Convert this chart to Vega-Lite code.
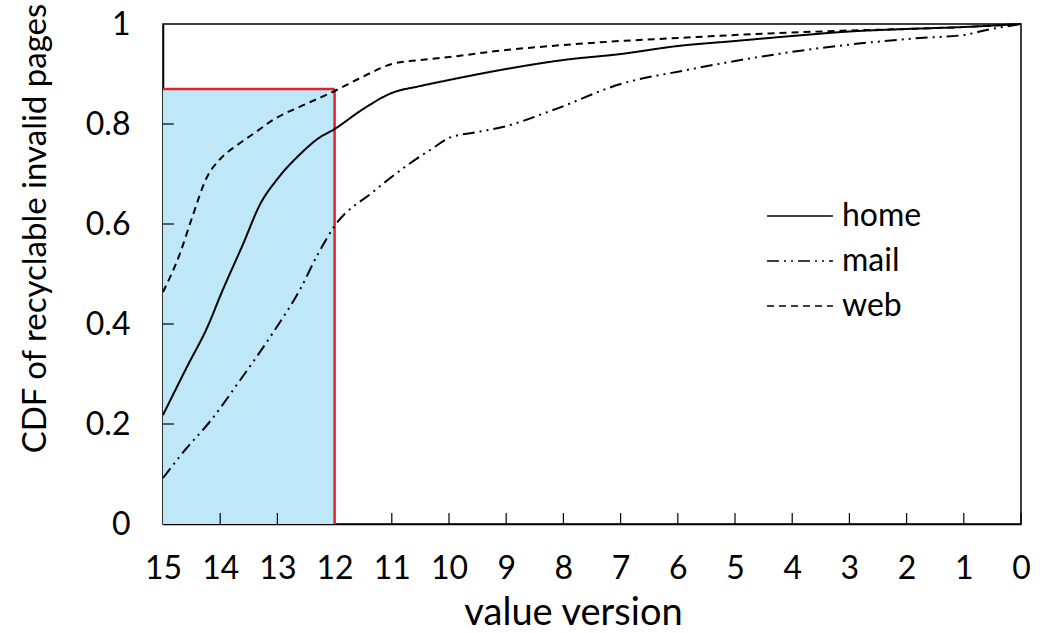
{
  "$schema": "https://vega.github.io/schema/vega-lite/v6.json",
  "autosize": "none",
  "width": 858,
  "height": 500,
  "padding": {"left": 163, "top": 24, "right": 19, "bottom": 109},
  "background": "white",
  "config": {
    "font": "Lato",
    "view": {"stroke": "black", "strokeWidth": 1.5},
    "axis": {"grid": false, "domainColor": "black", "domainWidth": 1.5, "ticks": false, "zindex": 1,
             "labelColor": "black", "titleColor": "black", "labelFont": "Lato", "titleFont": "Lato",
             "labelFontSize": 32, "titleFontWeight": "normal", "labelFlush": false, "labelOverlap": false}
  },
  "datasets": {
    "curves": [
      {"series": "home", "v": 15, "y": 0.218}, {"series": "home", "v": 14.6, "y": 0.31}, {"series": "home", "v": 14.2, "y": 0.40},
      {"series": "home", "v": 14, "y": 0.456}, {"series": "home", "v": 13.6, "y": 0.56}, {"series": "home", "v": 13.3, "y": 0.64},
      {"series": "home", "v": 13, "y": 0.69}, {"series": "home", "v": 12.6, "y": 0.74}, {"series": "home", "v": 12.3, "y": 0.77},
      {"series": "home", "v": 12, "y": 0.79}, {"series": "home", "v": 11.5, "y": 0.83}, {"series": "home", "v": 11, "y": 0.862},
      {"series": "home", "v": 10.5, "y": 0.876}, {"series": "home", "v": 10, "y": 0.888}, {"series": "home", "v": 9, "y": 0.91},
      {"series": "home", "v": 8, "y": 0.928}, {"series": "home", "v": 7, "y": 0.94}, {"series": "home", "v": 6, "y": 0.956},
      {"series": "home", "v": 5, "y": 0.966}, {"series": "home", "v": 4, "y": 0.976}, {"series": "home", "v": 3, "y": 0.985},
      {"series": "home", "v": 2, "y": 0.99}, {"series": "home", "v": 1, "y": 0.994}, {"series": "home", "v": 0, "y": 1},
      {"series": "mail", "v": 15, "y": 0.092}, {"series": "mail", "v": 14.6, "y": 0.15}, {"series": "mail", "v": 14.2, "y": 0.202},
      {"series": "mail", "v": 13.65, "y": 0.288}, {"series": "mail", "v": 13.08, "y": 0.382}, {"series": "mail", "v": 12.6, "y": 0.47},
      {"series": "mail", "v": 12.3, "y": 0.538}, {"series": "mail", "v": 12, "y": 0.596}, {"series": "mail", "v": 11.33, "y": 0.664},
      {"series": "mail", "v": 10.7, "y": 0.72}, {"series": "mail", "v": 10.28, "y": 0.752}, {"series": "mail", "v": 10, "y": 0.772},
      {"series": "mail", "v": 9.5, "y": 0.784}, {"series": "mail", "v": 9.06, "y": 0.794}, {"series": "mail", "v": 8.18, "y": 0.828},
      {"series": "mail", "v": 7, "y": 0.88}, {"series": "mail", "v": 5.84, "y": 0.908}, {"series": "mail", "v": 4.9, "y": 0.928},
      {"series": "mail", "v": 3.5, "y": 0.952}, {"series": "mail", "v": 1.77, "y": 0.972}, {"series": "mail", "v": 1, "y": 0.978},
      {"series": "mail", "v": 0.6, "y": 0.988}, {"series": "mail", "v": 0, "y": 1},
      {"series": "web", "v": 15, "y": 0.464}, {"series": "web", "v": 14.7, "y": 0.542}, {"series": "web", "v": 14.5, "y": 0.61},
      {"series": "web", "v": 14.23, "y": 0.694}, {"series": "web", "v": 14, "y": 0.73}, {"series": "web", "v": 13.7, "y": 0.758},
      {"series": "web", "v": 13.4, "y": 0.782}, {"series": "web", "v": 13.08, "y": 0.808}, {"series": "web", "v": 12.5, "y": 0.84},
      {"series": "web", "v": 12, "y": 0.866}, {"series": "web", "v": 11.5, "y": 0.895}, {"series": "web", "v": 11, "y": 0.92},
      {"series": "web", "v": 10.5, "y": 0.928}, {"series": "web", "v": 10, "y": 0.934}, {"series": "web", "v": 9, "y": 0.948},
      {"series": "web", "v": 8, "y": 0.958}, {"series": "web", "v": 7, "y": 0.966}, {"series": "web", "v": 6, "y": 0.972},
      {"series": "web", "v": 5, "y": 0.978}, {"series": "web", "v": 4, "y": 0.983}, {"series": "web", "v": 3, "y": 0.987},
      {"series": "web", "v": 2, "y": 0.99}, {"series": "web", "v": 1, "y": 0.994}, {"series": "web", "v": 0, "y": 1}
    ],
    "region": [{"v": 15, "v2": 12, "y": 0, "y2": 0.87}],
    "xticks": [
      {"v": 0, "y": 0, "y2": 0.022}, {"v": 1, "y": 0, "y2": 0.022}, {"v": 2, "y": 0, "y2": 0.022}, {"v": 3, "y": 0, "y2": 0.022},
      {"v": 4, "y": 0, "y2": 0.022}, {"v": 5, "y": 0, "y2": 0.022}, {"v": 6, "y": 0, "y2": 0.022}, {"v": 7, "y": 0, "y2": 0.022},
      {"v": 8, "y": 0, "y2": 0.022}, {"v": 9, "y": 0, "y2": 0.022}, {"v": 10, "y": 0, "y2": 0.022}, {"v": 11, "y": 0, "y2": 0.022},
      {"v": 13, "y": 0, "y2": 0.022}, {"v": 14, "y": 0, "y2": 0.022}
    ],
    "yticks": [
      {"y": 0.2, "v": 15, "v2": 14.81}, {"y": 0.4, "v": 15, "v2": 14.81}, {"y": 0.6, "v": 15, "v2": 14.81}, {"y": 0.8, "v": 15, "v2": 14.81}
    ]
  },
  "layer": [
    {
      "data": {"name": "region"},
      "mark": {"type": "rect", "fill": "#bee8f8"},
      "encoding": {
        "x": {"field": "v", "type": "quantitative", "scale": {"domain": [0, 15], "reverse": true, "nice": false, "zero": false},
              "axis": {"title": "value version", "values": [0,1,2,3,4,5,6,7,8,9,10,11,12,13,14,15], "labelPadding": 29,
                       "format": "d", "titleFontSize": 38, "titleX": 410, "titleY": 100, "titleBaseline": "alphabetic", "titleAlign": "center"}},
        "x2": {"field": "v2"},
        "y": {"field": "y", "type": "quantitative", "scale": {"domain": [0, 1], "nice": false},
              "axis": {"title": "CDF of recyclable invalid pages", "values": [0, 0.2, 0.4, 0.6, 0.8, 1], "labelPadding": 33,
                       "format": ".1~f", "titleFontSize": 33, "titleX": -128, "titleY": 204, "titleBaseline": "middle", "titleAlign": "center", "titleAngle": -90}},
        "y2": {"field": "y2"}
      }
    },
    {
      "data": {"name": "xticks"},
      "mark": {"type": "rule", "color": "black", "strokeWidth": 1.2},
      "encoding": {
        "x": {"field": "v", "type": "quantitative"},
        "y": {"field": "y", "type": "quantitative"},
        "y2": {"field": "y2"}
      }
    },
    {
      "data": {"name": "yticks"},
      "mark": {"type": "rule", "color": "black", "strokeWidth": 1.2},
      "encoding": {
        "x": {"field": "v", "type": "quantitative"},
        "x2": {"field": "v2"},
        "y": {"field": "y", "type": "quantitative"}
      }
    },
    {
      "data": {"name": "region"},
      "mark": {"type": "rule", "color": "#e8202a", "strokeWidth": 2.5},
      "encoding": {
        "x": {"field": "v", "type": "quantitative"},
        "x2": {"field": "v2"},
        "y": {"field": "y2", "type": "quantitative"}
      }
    },
    {
      "data": {"name": "region"},
      "mark": {"type": "rule", "color": "#e8202a", "strokeWidth": 2.5},
      "encoding": {
        "x": {"field": "v2", "type": "quantitative"},
        "y": {"field": "y", "type": "quantitative"},
        "y2": {"field": "y2"}
      }
    },
    {
      "data": {"name": "curves"},
      "mark": {"type": "line", "color": "black", "strokeWidth": 2, "interpolate": "monotone"},
      "encoding": {
        "x": {"field": "v", "type": "quantitative"},
        "y": {"field": "y", "type": "quantitative"},
        "order": {"field": "v", "sort": "descending"},
        "strokeDash": {
          "field": "series", "type": "nominal",
          "scale": {"domain": ["home", "mail", "web"], "range": [[1, 0], [12, 5, 2, 5, 2, 5], [7, 5]]},
          "legend": {
            "title": null, "orient": "none", "legendX": 621, "legendY": 176,
            "symbolType": "M-4,0H4", "symbolSize": 272, "symbolStrokeWidth": 1.6, "symbolStrokeColor": "black", "symbolFillColor": "transparent",
            "labelFontSize": 32, "labelFont": "Lato", "labelColor": "black", "rowPadding": 13, "labelOffset": 26
          }
        }
      }
    }
  ]
}
